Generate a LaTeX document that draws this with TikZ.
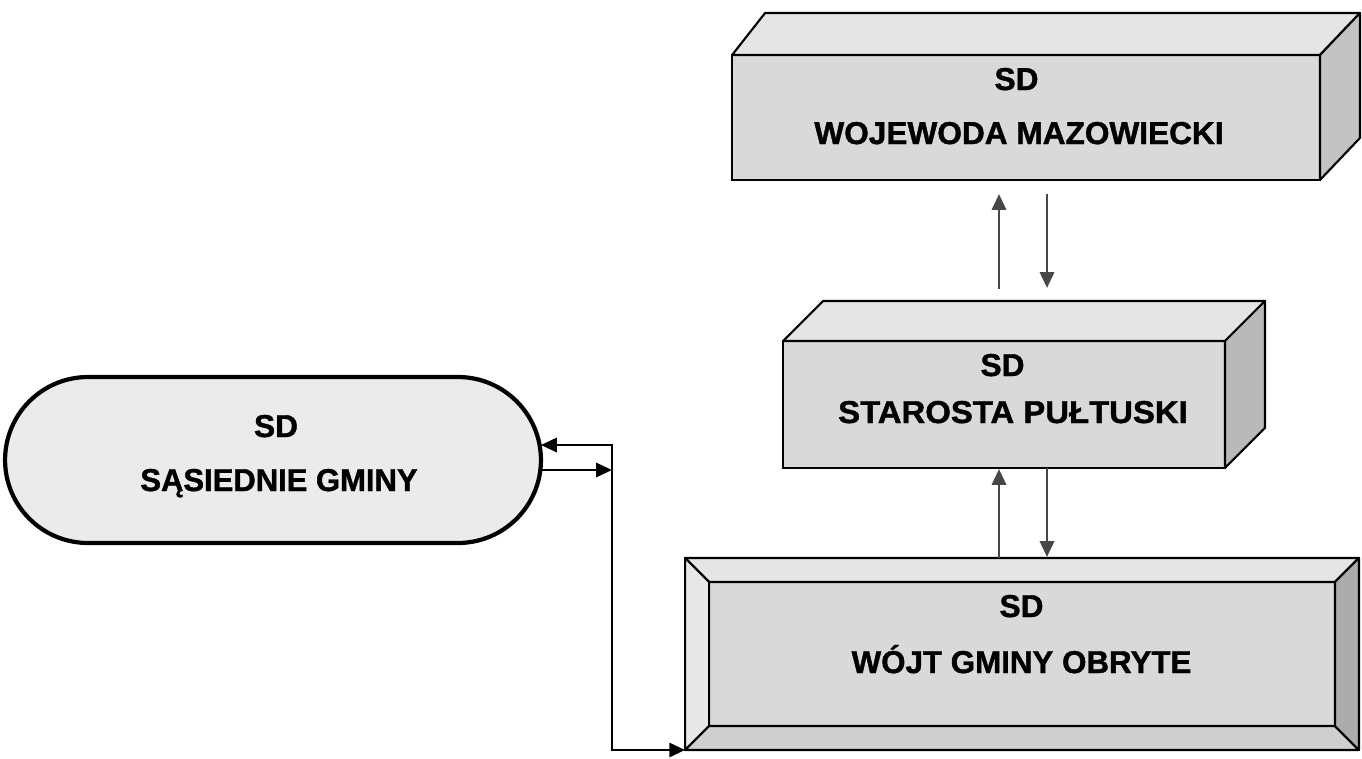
\documentclass[tikz,border=0pt]{standalone}
\usepackage{fontspec}
\setmainfont{Liberation Sans}[BoldFeatures={FakeBold=1.3}]
\usepackage{graphicx}
\usetikzlibrary{arrows.meta,calc}
\newcommand\sxt[2]{\scalebox{#1}[1]{#2}}
\begin{document}
\begin{tikzpicture}[x=0.02cm,y=-0.02cm,
  lbl/.style={inner sep=0pt,outer sep=0pt,anchor=base,font=\bfseries\fontsize{18pt}{21pt}\selectfont},
  front/.style={draw,line width=1.2pt,inner sep=0pt,outer sep=0pt,fill=gray!30},
  topface/.style={draw,line width=1.2pt,line join=round,fill=gray!20},
  sideface/.style={draw,line width=1.2pt,line join=round,fill=gray!55},
  tip/.style={-{Triangle[length=9pt,width=8pt]}},
  varr/.style={line width=1.6pt,draw=black!72,tip},
  lconn/.style={line width=1.6pt,draw=black}]
\useasboundingbox (0,0) rectangle (1362,758);

% ---- Wojewoda (3D box)
\node[front,minimum width=11.76cm,minimum height=2.5cm] (woj) at (1026,117.5) {};
\draw[topface] (woj.north west) -- ++(33,-42) -- ($(woj.north east)+(40,-42)$) -- (woj.north east) -- cycle;
\draw[sideface,fill=gray!48] (woj.north east) -- ++(40,-42) -- ($(woj.south east)+(40,-42)$) -- (woj.south east) -- cycle;
\node[lbl] (wojsd) at (1016.5,90) {SD};
\node[lbl] (wojname) at (1019,144) {\sxt{1.0}{WOJEWODA MAZOWIECKI}};

% ---- Starosta (3D box)
\node[front,minimum width=8.84cm,minimum height=2.54cm] (sta) at (1004,404.5) {};
\draw[topface] (sta.north west) -- ++(40,-40) -- ($(sta.north east)+(40,-40)$) -- (sta.north east) -- cycle;
\draw[sideface] (sta.north east) -- ++(40,-40) -- ($(sta.south east)+(40,-40)$) -- (sta.south east) -- cycle;
\node[lbl] (stasd) at (1002.5,376) {SD};
\node[lbl] (staname) at (1013,423) {\sxt{1.04}{STAROSTA PUŁTUSKI}};

% ---- Wojt (bevelled frame)
\node[front,fill=gray!22,minimum width=13.48cm,minimum height=3.84cm] (wout) at (1022,654) {};
\node[front,minimum width=12.52cm,minimum height=2.88cm] (win) at (1022,654) {};
\draw[line width=1.2pt,line join=round,fill=gray!20] (wout.north west) -- (wout.north east) -- (win.north east) -- (win.north west) -- cycle;
\draw[line width=1.2pt,line join=round,fill=gray!18] (wout.north west) -- (win.north west) -- (win.south west) -- (wout.south west) -- cycle;
\draw[line width=1.2pt,line join=round,fill=gray!38] (wout.south west) -- (win.south west) -- (win.south east) -- (wout.south east) -- cycle;
\draw[line width=1.2pt,line join=round,fill=gray!65] (wout.north east) -- (win.north east) -- (win.south east) -- (wout.south east) -- cycle;
\node[lbl] (wojtsd) at (1021.5,617) {SD};
\node[lbl] (wojtname) at (1021.5,673) {\sxt{0.99}{WÓJT GMINY OBRYTE}};

% ---- Sasiednie gminy (oval)
\node[draw,line width=2.4pt,fill=gray!16,inner sep=0pt,outer sep=0pt,rounded corners=1.66cm,
      minimum width=10.72cm,minimum height=3.32cm] (oval) at (273,460) {};
\node[lbl] (ovalsd) at (276,437) {SD};
\node[lbl] (ovalname) at (279,491) {\sxt{0.98}{SĄSIEDNIE GMINY}};

% ---- vertical arrows
\coordinate (xa) at (999,0);
\coordinate (xb) at (1047,0);
\draw[varr] ($(xa |- sta.north)+(0,-52)$) -- ($(xa |- woj.south)+(0,14)$);
\draw[varr] ($(xb |- woj.south)+(0,14)$) -- ($(xb |- sta.north)+(0,-53)$);
\draw[varr] (xa |- wout.north) -- ($(xa |- sta.south)+(0,1)$);
\draw[varr] (xb |- sta.south) -- ($(xb |- wout.north)+(0,-1)$);

% ---- left connectors
\coordinate (j1) at (612,445);
\coordinate (j2) at (612,470);
\draw[lconn,{Triangle[length=9pt,width=8pt]}-{Triangle[length=9pt,width=8pt]}]
  (oval.east |- j1) -- (j1) -- (j1 |- wout.south) -- (wout.south west);
\draw[lconn,tip] (oval.east |- j2) -- (j2);
\end{tikzpicture}
\end{document}
